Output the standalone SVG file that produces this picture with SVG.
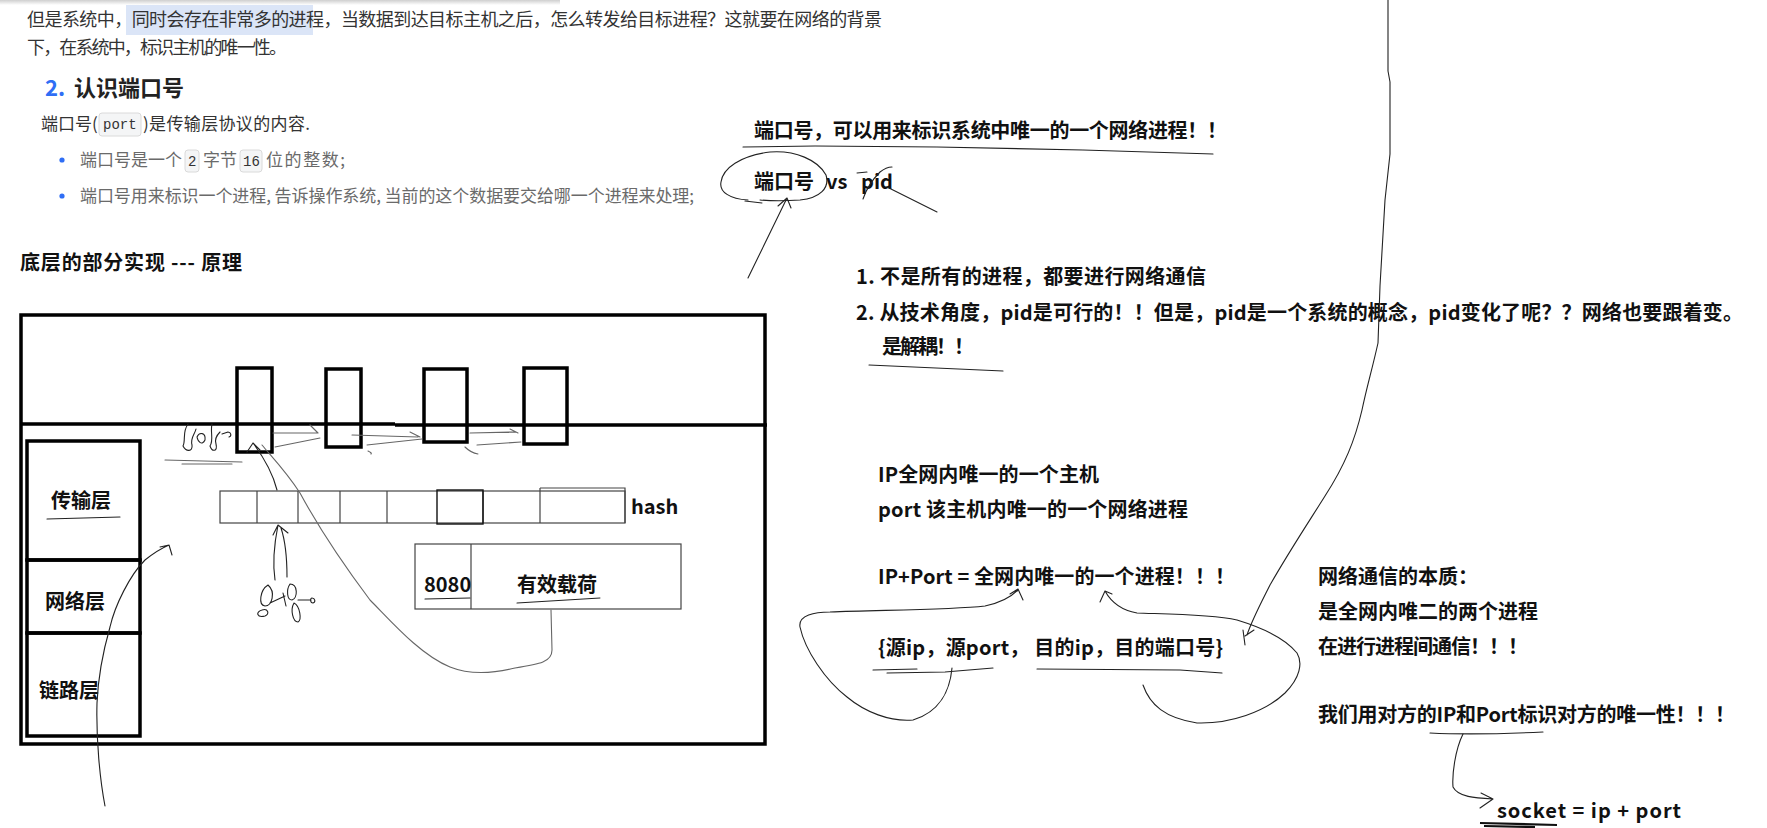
<svg xmlns="http://www.w3.org/2000/svg" width="1767" height="828" viewBox="0 0 1767 828">
<defs>
<style>
.md{font-family:"Noto Sans CJK SC","Noto Sans",sans-serif;fill:#333}
.gr{font-family:"Noto Sans CJK SC","Noto Sans",sans-serif;fill:#6a6a6a;font-size:17px}
.hw{font-family:"Noto Sans CJK SC","Noto Sans",sans-serif;font-weight:bold;fill:#111;font-size:20px}
.code{font-family:"Liberation Mono",monospace;font-size:14px;fill:#333}
.cbox{fill:#f4f5f6;stroke:#dadada;stroke-width:1}
.thick{fill:none;stroke:#000;stroke-width:3.5}
.pen{fill:none;stroke:#222;stroke-width:1.1;stroke-linecap:round;stroke-linejoin:round}
.penl{fill:none;stroke:#666;stroke-width:1.1;stroke-linecap:round;stroke-linejoin:round}
.cell{fill:none;stroke:#444;stroke-width:1.2}
</style>
<linearGradient id="sh" x1="0" y1="0" x2="0" y2="1"><stop offset="0" stop-color="#cfcfcf"/><stop offset="1" stop-color="#ffffff"/></linearGradient>
</defs>
<rect width="1767" height="828" fill="#fff"/>

<g id="doc-text">
<rect x="0" y="0" width="560" height="5" fill="url(#sh)"/>
<rect x="126" y="5" width="187" height="30" fill="#dbe5f7"/>
<text class="md" x="27" y="26" font-size="18" textLength="855" lengthAdjust="spacing">但是系统中，同时会存在非常多的进程，当数据到达目标主机之后，怎么转发给目标进程？这就要在网络的背景</text>
<text class="md" x="27" y="54" font-size="18" textLength="260" lengthAdjust="spacing">下，在系统中，标识主机的唯一性。</text>
<text x="45" y="96" font-family="Noto Sans CJK SC, Noto Sans, sans-serif" font-weight="bold" font-size="22" fill="#2f6ef5">2.</text>
<text x="74" y="96" font-family="Noto Sans CJK SC, Noto Sans, sans-serif" font-weight="bold" font-size="22" fill="#222">认识端口号</text>
<text class="md" x="41" y="130" font-size="17">端口号(</text>
<rect class="cbox" x="99" y="113" width="42" height="23" rx="3"/>
<text class="code" x="103" y="129">port</text>
<text class="md" x="143" y="130" font-size="17" textLength="167" lengthAdjust="spacing">)是传输层协议的内容.</text>
<circle cx="62" cy="160" r="2.6" fill="#2f6ef5"/>
<text class="gr" x="80" y="166">端口号是一个</text>
<rect class="cbox" x="185" y="150" width="14" height="22" rx="3"/>
<text class="code" x="188" y="166">2</text>
<text class="gr" x="203" y="166">字节</text>
<rect class="cbox" x="240" y="150" width="22" height="22" rx="3"/>
<text class="code" x="243" y="166">16</text>
<text class="gr" x="266" y="166" textLength="79" lengthAdjust="spacing">位的整数;</text>
<circle cx="62" cy="196" r="2.6" fill="#2f6ef5"/>
<text class="gr" x="80" y="202" textLength="614" lengthAdjust="spacing">端口号用来标识一个进程, 告诉操作系统, 当前的这个数据要交给哪一个进程来处理;</text>
</g>

<g id="note-port">
<text class="hw" x="754" y="138" textLength="473" lengthAdjust="spacing">端口号，可以用来标识系统中唯一的一个网络进程！！</text>
<path class="pen" d="M743,147 L815,146 L937,147 L1083,150 L1213,154"/>
<text class="hw" x="754" y="189">端口号</text>
<text class="hw" x="826" y="189">vs</text>
<text class="hw" x="861" y="189">pid</text>
<path class="pen" d="M748,200 C730,199 719,192 721,182 C723,168 740,156 770,152 C795,150 818,160 826,175 C830,188 820,198 800,200 C785,201 772,201 760,200"/>
<path class="pen" d="M745,201 L762,203"/>
<path class="pen" d="M857,173 L867,172 M863,199 C866,190 870,182 880,172 C885,168 889,167 892,167 M887,187 L937,212"/>
<path class="pen" d="M748,278 L787,198 M778,206 L787,198 L791,208"/>
</g>

<g id="note-reasons">
<text class="hw" x="856" y="284" textLength="350" lengthAdjust="spacing">1. 不是所有的进程，都要进行网络通信</text>
<text class="hw" x="856" y="320" textLength="887" lengthAdjust="spacing">2. 从技术角度，pid是可行的！！但是，pid是一个系统的概念，pid变化了呢？？网络也要跟着变。</text>
<text class="hw" x="882" y="354" textLength="92" lengthAdjust="spacing">是解耦！！</text>
<path class="pen" d="M869,365 L1003,371"/>
</g>

<g id="note-ip-port">
<text class="hw" x="878" y="482" textLength="221" lengthAdjust="spacing">IP全网内唯一的一个主机</text>
<text class="hw" x="878" y="517" textLength="310" lengthAdjust="spacing">port 该主机内唯一的一个网络进程</text>
<text class="hw" x="878" y="584" textLength="357" lengthAdjust="spacing">IP+Port = 全网内唯一的一个进程！！！</text>
<text class="hw" x="878" y="655" textLength="345" lengthAdjust="spacing">{源ip，源port， 目的ip，目的端口号}</text>
<path class="pen" d="M873,670 L917,669 M887,673 L945,672 L993,668"/>
<path class="pen" d="M1037,669 L1180,670 L1222,673"/>
<path class="pen" d="M952,668 C950,690 940,712 913,720 C890,722 865,712 847,697 C825,680 805,650 800,627 C798,615 815,612 830,612 C880,610 950,610 985,606 C1000,603 1010,598 1018,590 M1010,594 L1018,589 L1023,600"/>
<path class="pen" d="M1143,685 C1150,705 1165,718 1197,723 C1230,724 1265,712 1285,693 C1300,678 1303,663 1297,653 C1285,638 1260,627 1237,620 C1210,614 1160,614 1137,613 C1120,610 1110,600 1105,591 M1100,602 L1105,591 L1112,594"/>
</g>

<g id="note-essence">
<text class="hw" x="1318" y="584">网络通信的本质：</text>
<text class="hw" x="1318" y="619">是全网内唯二的两个进程</text>
<text class="hw" x="1318" y="654" textLength="210" lengthAdjust="spacing">在进行进程间通信！！！</text>
<text class="hw" x="1318" y="722" textLength="417" lengthAdjust="spacing">我们用对方的IP和Port标识对方的唯一性！！！</text>
<path class="pen" d="M1430,733 C1470,735 1500,734 1543,732"/>
<path class="pen" d="M1463,734 C1455,750 1452,775 1453,787 C1458,797 1475,798 1493,799 M1481,793 L1493,799 L1480,808"/>
<text class="hw" x="1497" y="818" textLength="184" lengthAdjust="spacing">socket = ip + port</text>
<path d="M1480,823 L1557,825 M1484,826 L1535,827" fill="none" stroke="#111" stroke-width="2.2"/>
</g>

<g id="long-arrow">
<path class="pen" d="M1388,0 L1388,71 L1390,82 L1390,154 L1385,200 L1380,286 L1378,343 C1372,370 1367,386 1362,410 C1355,440 1345,465 1325,496 C1310,520 1290,550 1270,585 C1260,605 1252,620 1247,635 M1243,630 L1245,645 M1245,636 L1254,630"/>
</g>

<g id="diagram-title">
<text class="hw" x="20" y="270" font-size="18" textLength="222" lengthAdjust="spacing">底层的部分实现 --- 原理</text>
</g>

<g id="host-box">
<rect class="thick" x="21" y="315" width="744" height="429"/>
<path class="thick" d="M20,424 L395,424 M395,425 L767,425"/>
</g>

<g id="processes">
<rect class="thick" x="237" y="368" width="35" height="84"/>
<rect class="thick" x="326" y="369" width="35" height="78"/>
<rect class="thick" x="424" y="369" width="43" height="73"/>
<rect class="thick" x="524" y="368" width="43" height="76"/>
</g>

<g id="layers">
<rect class="thick" x="27" y="441" width="113" height="119"/>
<rect class="thick" x="27" y="560" width="113" height="73"/>
<rect class="thick" x="27" y="633" width="113" height="103"/>
<text class="hw" x="81" y="508" font-size="19" text-anchor="middle">传输层</text>
<text class="hw" x="75" y="609" font-size="19" text-anchor="middle">网络层</text>
<text class="hw" x="69" y="698" font-size="19" text-anchor="middle">链路层</text>
<path class="pen" d="M47,519 L120,517"/>
</g>

<g id="hash-table">
<rect class="cell" x="220" y="491" width="405" height="32"/>
<path class="cell" d="M257,491 V523 M298,491 V523 M340,491 V523 M387,491 V523 M483,491 V523 M540,488 V523 M540,488 H625 V523"/>
<rect x="437" y="490" width="46" height="34" fill="none" stroke="#111" stroke-width="1.4"/>
<text class="hw" x="631" y="514">hash</text>
</g>

<g id="packet">
<rect class="cell" x="415" y="544" width="266" height="65"/>
<path class="cell" d="M471,544 V609"/>
<text class="hw" x="424" y="592">8080</text>
<text class="hw" x="517" y="592">有效载荷</text>
<path class="pen" d="M425,599 L470,598 M517,603 L600,598"/>
</g>

<g id="connectors">
<path class="penl" d="M551,610 L552,650 C552,662 540,664 515,668 C495,673 470,675 450,667 C420,655 390,620 370,600 C340,560 320,530 300,493 C285,470 270,455 262,445"/>
<path class="pen" d="M277,490 C272,470 262,455 253,443 M247,452 L253,443 L260,450"/>
<path class="pen" d="M275,580 C272,560 275,540 278,525 M287,577 C287,555 285,540 281,528 M273,535 L278,525 L288,533"/>
<path class="pen" d="M268,585 C260,590 258,605 265,606 C272,606 276,592 268,585 Z M262,610 C255,612 257,618 265,616 C270,614 268,608 262,610 Z M270,603 L285,596 M283,593 L286,606 M290,584 C286,590 287,600 292,600 C298,598 298,584 290,584 Z M294,603 C290,610 293,622 298,622 C302,620 300,606 294,603 Z M298,600 L311,600 M312,598 C315,598 316,602 313,603 C310,603 310,598 312,598 Z"/>
<path class="pen" d="M188,424 C182,432 186,440 183,446 C186,452 193,452 192,445 C190,438 195,434 196,429 M197,437 C199,432 206,432 205,440 C202,446 198,442 197,437 M212,424 C210,432 214,440 210,446 C212,452 218,452 216,444 C214,438 218,434 220,432 M222,434 L228,432 C231,432 232,436 229,437"/>
<path class="penl" d="M165,460 L242,462 M182,464 L232,464"/>
<path class="penl" d="M273,433 L318,433 M310,425 L318,433 M275,447 C290,444 305,441 320,438 M352,435 L418,437 M410,432 L420,437 M367,445 L422,439 M368,451 C370,452 372,453 371,454 M470,433 L516,432 M510,429 L518,433 M477,445 L521,442 M465,447 C468,450 472,453 478,454"/>
<path class="pen" d="M105,806 C100,780 96,740 97,703 C98,680 102,655 110,627 C115,605 130,575 145,560 C155,552 162,548 169,545 M160,547 L169,545 L172,555"/>
</g>
</svg>
